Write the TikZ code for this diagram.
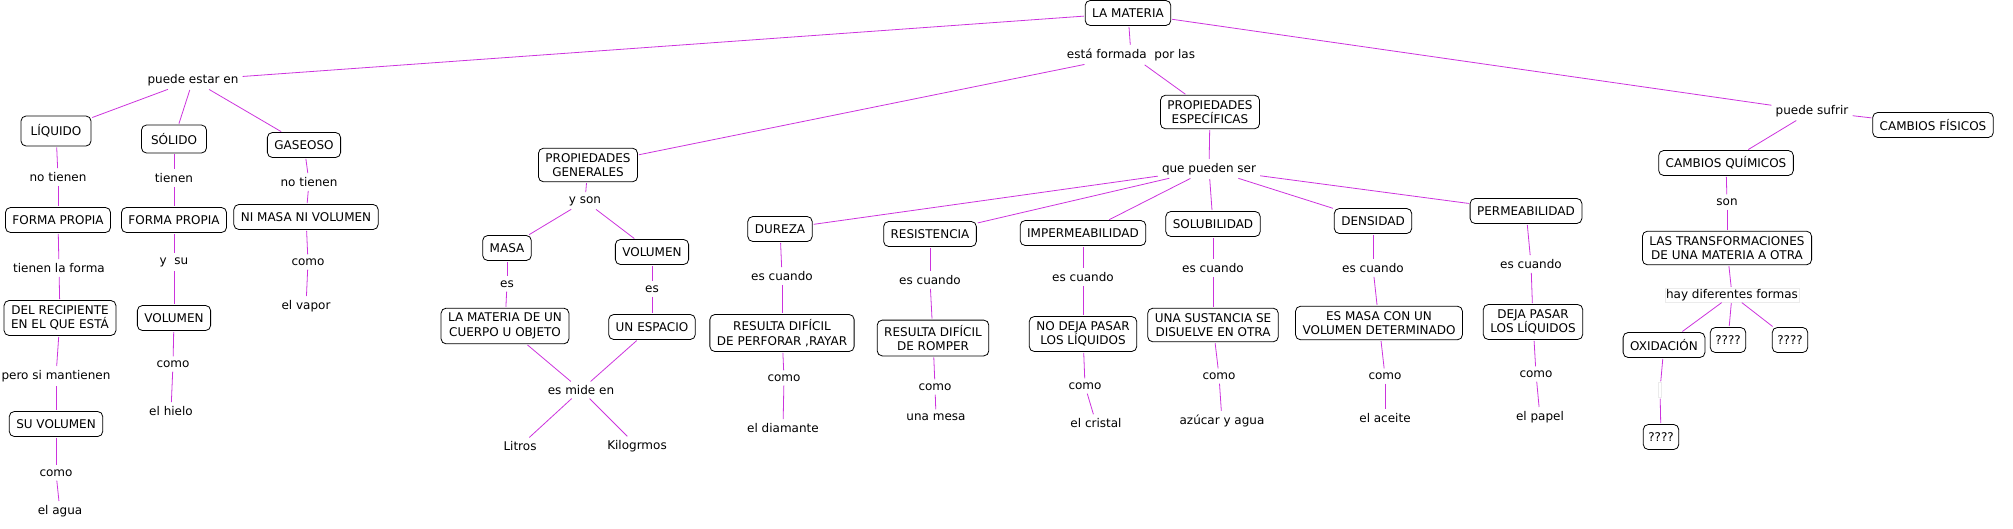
\documentclass[tikz,border=0pt]{standalone}
\usepackage{fontspec}
\setmainfont{DejaVu Sans}
\definecolor{lnk}{RGB}{204,51,221}
\begin{document}
\begin{tikzpicture}[x=1pt,y=-1pt,
  cbox/.style={draw=black,line width=0.8pt,rounded corners=5pt,fill=white,align=center,
    font=\fontsize{12}{14.5}\selectfont,inner xsep=7pt,inner ysep=5pt,minimum height=25pt},
  lab/.style={align=center,font=\fontsize{12}{14.5}\selectfont,inner sep=3pt},
  conn/.style={draw=lnk,line width=0.8pt,shorten >=1pt,shorten <=1pt}]
\useasboundingbox (0,0) rectangle (2013,528);
% concepts
\node[cbox] (mat) at (1128,13) {LA MATERIA};
\node[cbox,minimum height=30pt,minimum width=70pt] (liq) at (56,131) {LÍQUIDO};
\node[cbox,minimum height=28pt,minimum width=65pt] (sol) at (174,139) {SÓLIDO};
\node[cbox] (gas) at (304,145) {GASEOSO};
\node[cbox] (fpl) at (58,220) {FORMA PROPIA};
\node[cbox] (fps) at (174,220) {FORMA PROPIA};
\node[cbox] (nmv) at (306,217) {NI MASA NI VOLUMEN};
\node[cbox] (rec) at (60,318) {DEL RECIPIENTE\\EN EL QUE ESTÁ};
\node[cbox] (vols) at (174,318) {VOLUMEN};
\node[cbox] (suv) at (56,424) {SU VOLUMEN};
\node[cbox] (pg) at (588,165) {PROPIEDADES\\GENERALES};
\node[cbox] (masa) at (507,248) {MASA};
\node[cbox] (volg) at (652,252) {VOLUMEN};
\node[cbox] (mco) at (505,326) {LA MATERIA DE UN\\CUERPO U OBJETO};
\node[cbox] (esp) at (652,327) {UN ESPACIO};
\node[cbox] (pe) at (1210,112) {PROPIEDADES\\ESPECÍFICAS};
\node[cbox] (dur) at (780,229) {DUREZA};
\node[cbox] (res) at (930,234) {RESISTENCIA};
\node[cbox] (imp) at (1083,233) {IMPERMEABILIDAD};
\node[cbox] (solu) at (1213,224) {SOLUBILIDAD};
\node[cbox] (den) at (1373,221) {DENSIDAD};
\node[cbox] (per) at (1526,211) {PERMEABILIDAD};
\node[cbox] (rdp) at (782,333) {RESULTA DIFÍCIL\\DE PERFORAR ,RAYAR};
\node[cbox] (rdr) at (933,338) {RESULTA DIFÍCIL\\DE ROMPER};
\node[cbox] (ndp) at (1083,334) {NO DEJA PASAR\\LOS LÍQUIDOS};
\node[cbox] (usd) at (1213,325) {UNA SUSTANCIA SE\\DISUELVE EN OTRA};
\node[cbox] (emv) at (1379,323) {ES MASA CON UN\\VOLUMEN DETERMINADO};
\node[cbox] (dpl) at (1533,322) {DEJA PASAR\\LOS LÍQUIDOS};
\node[cbox] (cq) at (1726,163) {CAMBIOS QUÍMICOS};
\node[cbox] (cf) at (1933,125) {CAMBIOS FÍSICOS};
\node[cbox] (tra) at (1727,248) {LAS TRANSFORMACIONES\\DE UNA MATERIA A OTRA};
\node[cbox] (oxi) at (1664,345) {OXIDACIÓN};
\node[cbox,inner xsep=5pt] (q1) at (1728,340) {????};
\node[cbox,inner xsep=5pt] (q2) at (1790,340) {????};
\node[cbox,inner xsep=5pt] (q3) at (1661,437) {????};
% linking phrases and plain texts
\node[lab] (lpee) at (193,80) {puede estar en};
\node[lab] (lef) at (1131,55) {está formada \ por las};
\node[lab] (lps) at (1812,111) {puede sufrir};
\node[lab] (lnt1) at (58,177) {no tienen};
\node[lab] (lt) at (174,178) {tienen};
\node[lab] (lnt2) at (309,182) {no tienen};
\node[lab] (ltf) at (59,268) {tienen la forma};
\node[lab] (lys) at (174,262) {y \ su};
\node[lab] (lc3) at (308,262) {como};
\node[lab] (lpsm) at (56,376) {pero si mantienen};
\node[lab] (lc2) at (173,364) {como};
\node[lab] (lc1) at (56,473) {como};
\node[lab] (agua) at (60,511) {el agua};
\node[lab] (hielo) at (171,411) {el hielo};
\node[lab] (vapor) at (306,306) {el vapor};
\node[lab] (lyson) at (585,201) {y son};
\node[lab] (les1) at (507,284) {es};
\node[lab] (les2) at (652,289) {es};
\node[lab] (lmide) at (581,390) {es mide en};
\node[lab] (litros) at (520,446) {Litros};
\node[lab] (kilos) at (637,446) {Kilogrmos};
\node[lab] (lqps) at (1209,169) {que pueden ser};
\node[lab] (lec1) at (782,276) {es cuando};
\node[lab] (lec2) at (930,280) {es cuando};
\node[lab] (lec3) at (1083,277) {es cuando};
\node[lab] (lec4) at (1213,268) {es cuando};
\node[lab] (lec5) at (1373,268) {es cuando};
\node[lab] (lec6) at (1531,264) {es cuando};
\node[lab] (lco1) at (784,378) {como};
\node[lab] (lco2) at (935,387) {como};
\node[lab] (lco3) at (1085,386) {como};
\node[lab] (lco4) at (1219,376) {como};
\node[lab] (lco5) at (1385,376) {como};
\node[lab] (lco6) at (1536,374) {como};
\node[lab] (ex1) at (783,428) {el diamante};
\node[lab] (ex2) at (936,417) {una mesa};
\node[lab] (ex3) at (1096,423) {el cristal};
\node[lab] (ex4) at (1222,421) {azúcar y agua};
\node[lab] (ex5) at (1385,418) {el aceite};
\node[lab] (ex6) at (1540,417) {el papel};
\node[lab] (lson) at (1727,202) {son};
\node[lab,draw=black!8,inner sep=1pt] (lhdf) at (1732,295) {hay diferentes formas};
\node[draw=black!8,minimum width=3pt,minimum height=15pt,inner sep=0pt] (lemp) at (1660,390) {};
% connectors
\draw[conn] (mat) -- (lpee);
\draw[conn] (lpee) -- (liq);
\draw[conn] (lpee) -- (sol);
\draw[conn] (lpee) -- (gas);
\draw[conn] (liq) -- (lnt1);
\draw[conn] (lnt1) -- (fpl);
\draw[conn] (fpl) -- (ltf);
\draw[conn] (ltf) -- (rec);
\draw[conn] (rec) -- (lpsm);
\draw[conn] (lpsm) -- (suv);
\draw[conn] (suv) -- (lc1);
\draw[conn] (lc1) -- (agua);
\draw[conn] (sol) -- (lt);
\draw[conn] (lt) -- (fps);
\draw[conn] (fps) -- (lys);
\draw[conn] (lys) -- (vols);
\draw[conn] (vols) -- (lc2);
\draw[conn] (lc2) -- (hielo);
\draw[conn] (gas) -- (lnt2);
\draw[conn] (lnt2) -- (nmv);
\draw[conn] (nmv) -- (lc3);
\draw[conn] (lc3) -- (vapor);
\draw[conn] (mat) -- (lef);
\draw[conn] (lef) -- (pg);
\draw[conn] (lef) -- (pe);
\draw[conn] (pg) -- (lyson);
\draw[conn] (lyson) -- (masa);
\draw[conn] (lyson) -- (volg);
\draw[conn] (masa) -- (les1);
\draw[conn] (les1) -- (mco);
\draw[conn] (volg) -- (les2);
\draw[conn] (les2) -- (esp);
\draw[conn] (mco) -- (lmide);
\draw[conn] (esp) -- (lmide);
\draw[conn] (lmide) -- (litros);
\draw[conn] (lmide) -- (kilos);
\draw[conn] (pe) -- (lqps);
\draw[conn] (lqps) -- (dur);
\draw[conn] (lqps) -- (res);
\draw[conn] (lqps) -- (imp);
\draw[conn] (lqps) -- (solu);
\draw[conn] (lqps) -- (den);
\draw[conn] (lqps) -- (per);
\draw[conn] (dur) -- (lec1); \draw[conn] (lec1) -- (rdp); \draw[conn] (rdp) -- (lco1); \draw[conn] (lco1) -- (ex1);
\draw[conn] (res) -- (lec2); \draw[conn] (lec2) -- (rdr); \draw[conn] (rdr) -- (lco2); \draw[conn] (lco2) -- (ex2);
\draw[conn] (imp) -- (lec3); \draw[conn] (lec3) -- (ndp); \draw[conn] (ndp) -- (lco3); \draw[conn] (lco3) -- (ex3);
\draw[conn] (solu) -- (lec4); \draw[conn] (lec4) -- (usd); \draw[conn] (usd) -- (lco4); \draw[conn] (lco4) -- (ex4);
\draw[conn] (den) -- (lec5); \draw[conn] (lec5) -- (emv); \draw[conn] (emv) -- (lco5); \draw[conn] (lco5) -- (ex5);
\draw[conn] (per) -- (lec6); \draw[conn] (lec6) -- (dpl); \draw[conn] (dpl) -- (lco6); \draw[conn] (lco6) -- (ex6);
\draw[conn] (mat) -- (lps);
\draw[conn] (lps) -- (cq);
\draw[conn] (lps) -- (cf);
\draw[conn] (cq) -- (lson);
\draw[conn] (lson) -- (tra);
\draw[conn] (tra) -- (lhdf);
\draw[conn] (lhdf) -- (oxi);
\draw[conn] (lhdf) -- (q1);
\draw[conn] (lhdf) -- (q2);
\draw[conn] (oxi) -- (lemp);
\draw[conn] (lemp) -- (q3);
\end{tikzpicture}
\end{document}
